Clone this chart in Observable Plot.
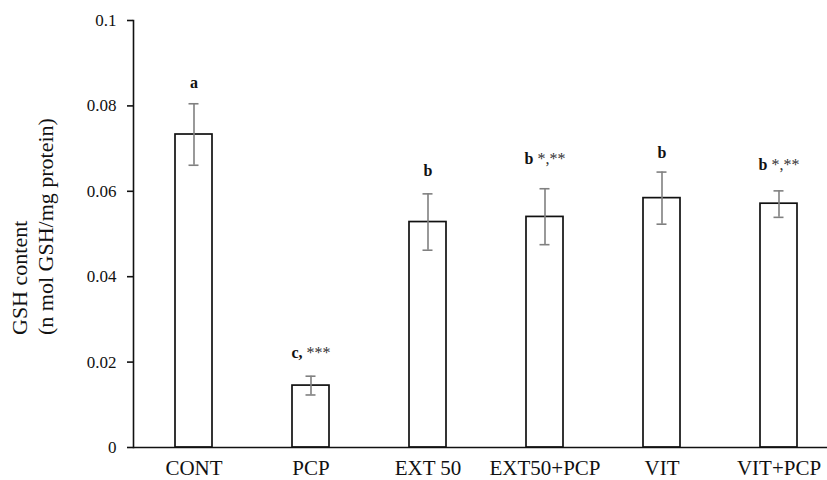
<!DOCTYPE html>
<html>
<head>
<meta charset="utf-8">
<script src="https://cdn.jsdelivr.net/npm/d3@7"></script>
<script src="https://cdn.jsdelivr.net/npm/@observablehq/plot@0.6"></script>
<style>
  html, body { margin: 0; padding: 0; background: #fff; overflow: hidden; }
  #chart svg { display: block; }
</style>
</head>
<body>
<div id="chart"></div>
<script>
const categories = ["CONT", "PCP", "EXT 50", "EXT50+PCP", "VIT", "VIT+PCP"];
const means      = [0.0733, 0.0145, 0.0528, 0.0540, 0.0584, 0.0571];
const errLow     = [0.0661, 0.0123, 0.0462, 0.0475, 0.0523, 0.0539];
const errHigh    = [0.0805, 0.0167, 0.0594, 0.0606, 0.0645, 0.0601];
const sigLabels  = ["a", "c, ***", "b", "b *,**", "b", "b *,**"];
const sigLabelAt = [0.0841, 0.0209, 0.0637, 0.0665, 0.0677, 0.0651];
const yTicks      = [0, 0.02, 0.04, 0.06, 0.08, 0.1];
const yTickLabels = ["0", "0.02", "0.04", "0.06", "0.08", "0.1"];
const yTitle = ["GSH content", "(n mol GSH/mg protein)"];

const data = categories.map((c, i) => ({
  group: c, value: means[i], lo: errLow[i], hi: errHigh[i],
  label: sigLabels[i], labelY: sigLabelAt[i]
}));

const W = 827, H = 480, ML = 133, MT = 20, MB = 33;

const chart = Plot.plot({
  width: W,
  height: H,
  marginLeft: ML,
  marginRight: 0,
  marginTop: MT,
  marginBottom: MB,
  style: { fontFamily: "'Liberation Serif', 'Times New Roman', serif", color: "#111", background: "#fff", overflow: "visible" },
  x: { domain: categories, range: [ML, ML + 706], paddingInner: 0.686, paddingOuter: 0.343, align: 0.5 },
  y: { domain: [0, 0.1] },
  marks: [
    Plot.barY(data, { x: "group", y: "value", fill: "#fff", stroke: "#111", strokeWidth: 1.7 }),
    Plot.ruleX(data, { x: "group", y1: "lo", y2: "hi", stroke: "#808080", strokeWidth: 1.6 }),
    Plot.tickY(data, { x: "group", y: "lo", stroke: "#808080", strokeWidth: 1.6, insetLeft: 13.5, insetRight: 13.5 }),
    Plot.tickY(data, { x: "group", y: "hi", stroke: "#808080", strokeWidth: 1.6, insetLeft: 13.5, insetRight: 13.5 }),
    Plot.text(data, { x: "group", y: "labelY", text: "label", lineAnchor: "bottom", fontSize: 16, fill: "#111", className: "sig-label" }),
    Plot.ruleY([0], { stroke: "#111", strokeWidth: 1.6 }),
    Plot.frame({ anchor: "left", stroke: "#111", strokeWidth: 1.6 }),
    Plot.axisY({ ticks: yTicks, tickFormat: d => yTickLabels[yTicks.indexOf(d)], tickSize: 6, tickPadding: 11, fontSize: 17, label: null, stroke: "#111", strokeWidth: 1.6 }),
    Plot.axisX({ tickSize: 0, tickPadding: 13, fontSize: 21, label: null }),
    Plot.text([yTitle.join("\n")], { frameAnchor: "left", rotate: -90, textAnchor: "start", lineAnchor: "bottom", lineHeight: 1.14, dx: -81, dy: 101, fontSize: 22, fill: "#111" })
  ]
});

// letter part of each significance label in bold, asterisks in regular weight
d3.select(chart).selectAll("g.sig-label text").each(function () {
  const t = this.textContent;
  const k = t.indexOf(" ");
  if (k < 0) { this.setAttribute("font-weight", "bold"); return; }
  this.textContent = "";
  const a = document.createElementNS("http://www.w3.org/2000/svg", "tspan");
  a.setAttribute("font-weight", "bold");
  a.textContent = t.slice(0, k);
  const b = document.createElementNS("http://www.w3.org/2000/svg", "tspan");
  b.setAttribute("fill", "#333");
  b.textContent = t.slice(k);
  this.appendChild(a);
  this.appendChild(b);
});

document.getElementById("chart").appendChild(chart);
</script>
</body>
</html>
